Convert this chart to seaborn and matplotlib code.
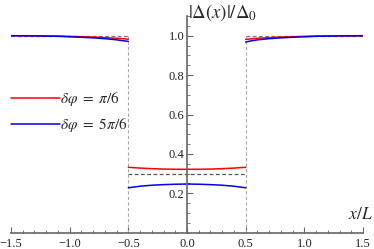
import numpy as np
import pandas as pd
import matplotlib.pyplot as plt
import seaborn as sns
from matplotlib.ticker import MultipleLocator

sns.set_theme(style="white")
plt.rcParams.update({
    'font.family': ['Liberation Serif', 'DejaVu Serif'],
    'mathtext.fontset': 'stix',
    'font.size': 9,
})

# outer regions (|x| > 0.5)
x_left = [-1.5, -1.3, -1.1, -0.9, -0.8, -0.7, -0.6, -0.55, -0.5]
red_left = [1.0, 0.999, 0.998, 0.995, 0.993, 0.99, 0.987, 0.985, 0.982]
blue_left = [1.0, 0.999, 0.997, 0.992, 0.989, 0.985, 0.979, 0.975, 0.971]

x_right = [0.5, 0.55, 0.6, 0.7, 0.8, 0.9, 1.1, 1.3, 1.5]
red_right = [0.981, 0.984, 0.987, 0.99, 0.993, 0.995, 0.998, 0.999, 1.0]
blue_right = [0.968, 0.974, 0.979, 0.985, 0.989, 0.992, 0.997, 0.999, 1.0]

# inner region (|x| < 0.5)
x_mid = [-0.5, -0.4, -0.3, -0.2, -0.1, 0.0, 0.1, 0.2, 0.3, 0.4, 0.5]
red_mid = [0.332, 0.328, 0.325, 0.323, 0.322, 0.322, 0.322, 0.323, 0.325, 0.328, 0.332]
blue_mid = [0.228, 0.236, 0.241, 0.244, 0.246, 0.247, 0.246, 0.244, 0.241, 0.236, 0.228]

labels = [r'$\delta\varphi\ =\ \pi/6$', r'$\delta\varphi\ =\ 5\pi/6$']
colors = ['#ff0000', '#0000ee']

fig = plt.figure(figsize=(3.74, 2.49), dpi=100)
ax = fig.add_axes([11 / 374, 16.3 / 249, 352 / 374, 216.7 / 249])

# dashed reference
ax.plot([-1.5, -0.5], [1.0, 1.0], ls='--', color='#777777', lw=0.9, dashes=(3, 2))
ax.plot([0.5, 1.5], [1.0, 1.0], ls='--', color='#777777', lw=0.9, dashes=(3, 2))
ax.plot([-0.5, 0.5], [0.3, 0.3], ls='--', color='#555555', lw=0.9, dashes=(3, 2))
for xv in [-0.5, 0.5]:
    ax.plot([xv, xv], [0, 1.0], ls='--', color='#aaaaaa', lw=0.8, dashes=(3, 2))

parts = [
    (x_left, red_left, blue_left),
    (x_mid, red_mid, blue_mid),
    (x_right, red_right, blue_right),
]
for i, (xs, rs, bs) in enumerate(parts):
    df = pd.DataFrame({'x': xs, 'red': rs, 'blue': bs})
    sns.lineplot(data=df, x='x', y='red', ax=ax, color=colors[0], lw=1.1,
                 label=labels[0] if i == 0 else None, legend=False)
    sns.lineplot(data=df, x='x', y='blue', ax=ax, color=colors[1], lw=1.1,
                 label=labels[1] if i == 0 else None, legend=False)

ax.set_xlim(-1.5, 1.5)
ax.set_ylim(0, 1.1)

# mathematica-like axes through origin
for s in ['top', 'right']:
    ax.spines[s].set_visible(False)
ax.spines['left'].set_position(('data', 0))
ax.spines['bottom'].set_position(('data', 0))
for s in ['left', 'bottom']:
    ax.spines[s].set_color('#666666')
    ax.spines[s].set_linewidth(1.2)

ax.xaxis.set_minor_locator(MultipleLocator(0.1))
ax.yaxis.set_minor_locator(MultipleLocator(0.05))
ax.set_xticks([-1.5, -1.0, -0.5, 0.0, 0.5, 1.0, 1.5])
ax.set_yticks([0.2, 0.4, 0.6, 0.8, 1.0])
ax.set_xticklabels(['−1.5', '−1.0', '−0.5', '0.0', '0.5', '1.0', '1.5'])
ax.tick_params(axis='both', which='major', direction='in', length=4, width=0.8,
               color='#666666', labelsize=9, labelcolor='#222222')
ax.tick_params(axis='x', which='major', pad=4)
ax.tick_params(axis='y', which='major', pad=2)
ax.tick_params(axis='both', which='minor', direction='in', length=2, width=0.6,
               color='#666666')
ax.tick_params(axis='x', which='both', bottom=True)
ax.tick_params(axis='y', which='both', left=True)
ax.set_xlabel('')
ax.set_ylabel('')

ax.text(0.005, 1.12, r'$|\Delta(x)|/\Delta_0$', fontsize=13.5, ha='left', va='center',
        clip_on=False)
ax.text(1.585, 0.09, r'$x/L$', fontsize=12.5, ha='right', va='center', clip_on=False)

ax.legend(loc='upper left', bbox_to_anchor=(-0.04, 0.72), frameon=False,
          fontsize=11, handlelength=3.2, handletextpad=0.0, labelspacing=0.5)

fig.savefig('out.png', dpi=100)
